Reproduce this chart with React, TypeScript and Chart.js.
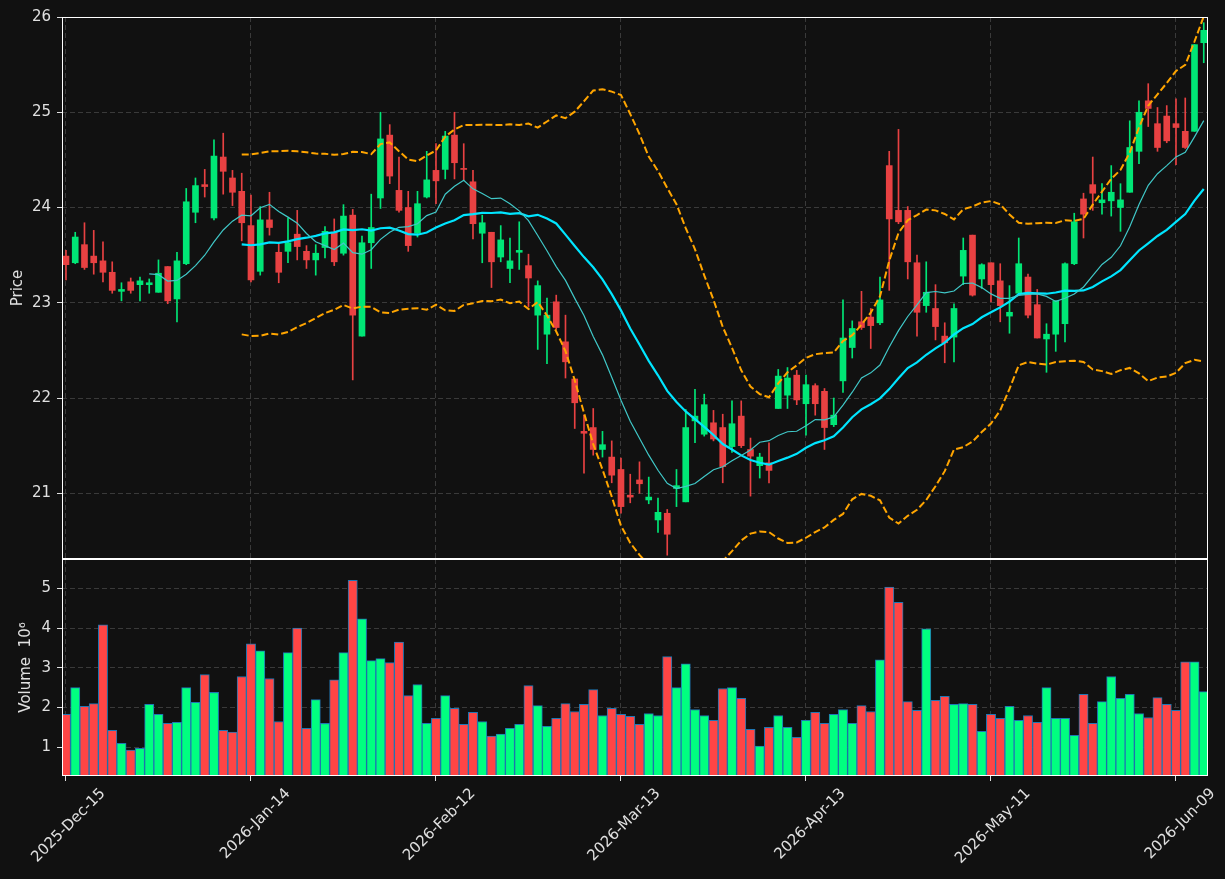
import React, { useEffect, useRef } from 'react';
import { Chart, registerables } from 'chart.js';
Chart.register(...registerables);

// ---- data ----
const OPEN = [
  23.49, 23.42, 23.61, 23.49, 23.44, 23.32, 23.12, 23.22, 23.19, 23.19,
  23.11, 23.38, 23.04, 23.41, 23.95, 24.24, 23.89, 24.53, 24.31, 24.17,
  23.81, 23.33, 23.87, 23.53, 23.54, 23.72, 23.54, 23.45, 23.58, 23.74,
  23.52, 23.92, 22.65, 23.63, 24.10, 24.76, 24.18, 24.00, 23.73, 24.11,
  24.39, 24.40, 24.76, 24.41, 24.27, 23.73, 23.74, 23.48, 23.36, 23.53,
  23.39, 22.87, 22.67, 23.01, 22.59, 22.20, 21.65, 21.69, 21.46, 21.38,
  21.25, 20.98, 21.14, 20.93, 20.72, 20.79, 21.05, 20.91, 21.76, 21.62,
  21.74, 21.69, 21.49, 21.81, 21.46, 21.29, 21.32, 21.89, 22.03, 22.24,
  21.94, 22.13, 22.07, 21.72, 22.18, 22.53, 22.80, 22.85, 22.79, 24.44,
  23.97, 23.97, 23.42, 22.97, 22.94, 22.65, 22.64, 23.28, 23.71, 23.25,
  23.42, 23.23, 22.86, 23.10, 23.27, 22.98, 22.62, 22.67, 22.78, 23.41,
  24.09, 24.24, 24.05, 24.07, 24.00, 24.16, 24.59, 25.12, 24.88, 24.96,
  24.88, 24.80, 24.80, 25.73,
];
const HIGH = [
  23.55, 23.74, 23.84, 23.76, 23.64, 23.43, 23.21, 23.26, 23.27, 23.25,
  23.45, 23.38, 23.53, 24.20, 24.31, 24.40, 24.71, 24.78, 24.39, 24.36,
  24.13, 24.01, 24.16, 23.63, 23.89, 23.97, 23.60, 23.61, 23.80, 23.88,
  24.03, 23.98, 23.70, 24.14, 25.00, 24.87, 24.53, 24.17, 24.17, 24.59,
  24.67, 24.80, 25.00, 24.67, 24.39, 23.92, 23.74, 23.81, 23.68, 23.85,
  23.51, 23.23, 23.05, 23.08, 22.87, 22.20, 21.82, 21.89, 21.65, 21.55,
  21.37, 21.20, 21.33, 21.17, 20.95, 20.83, 21.25, 21.88, 22.09, 22.04,
  21.87, 21.83, 21.97, 21.97, 21.58, 21.42, 21.53, 22.30, 22.32, 22.29,
  22.24, 22.15, 22.10, 22.00, 23.03, 22.81, 23.12, 22.94, 23.27, 24.59,
  24.82, 24.01, 23.50, 23.43, 23.19, 22.79, 22.99, 23.68, 23.71, 23.41,
  23.42, 23.41, 23.18, 23.68, 23.30, 23.14, 22.78, 23.02, 23.42, 23.94,
  24.15, 24.53, 24.25, 24.44, 24.25, 24.91, 25.12, 25.30, 25.05, 25.07,
  25.14, 25.15, 25.71, 25.94,
];
const LOW = [
  23.24, 23.41, 23.35, 23.30, 23.22, 23.10, 23.02, 23.10, 23.02, 23.10,
  23.11, 22.99, 22.80, 23.40, 23.84, 24.11, 23.87, 24.14, 24.02, 23.65,
  23.22, 23.29, 23.71, 23.21, 23.42, 23.45, 23.36, 23.29, 23.47, 23.39,
  23.50, 22.19, 22.65, 23.36, 23.99, 24.25, 23.95, 23.54, 23.69, 24.10,
  24.04, 24.30, 24.30, 24.29, 23.67, 23.42, 23.16, 23.43, 23.21, 23.35,
  22.96, 22.51, 22.36, 22.72, 22.21, 21.68, 21.21, 21.40, 21.38, 21.11,
  20.79, 20.90, 21.00, 20.89, 20.59, 20.35, 20.86, 20.91, 21.53, 21.60,
  21.55, 21.11, 21.43, 21.48, 20.97, 21.16, 21.11, 21.89, 21.89, 21.93,
  21.61, 21.82, 21.46, 21.70, 22.06, 22.42, 22.72, 22.52, 22.77, 23.13,
  23.83, 23.25, 22.65, 22.90, 22.61, 22.37, 22.38, 23.19, 23.07, 23.15,
  23.01, 22.80, 22.68, 23.10, 22.84, 22.63, 22.27, 22.49, 22.59, 23.40,
  23.68, 23.97, 23.93, 23.91, 23.75, 24.16, 24.46, 24.85, 24.59, 24.68,
  24.45, 24.62, 24.80, 25.52,
];
const CLOSE = [
  23.40, 23.69, 23.37, 23.42, 23.32, 23.13, 23.14, 23.13, 23.23, 23.21,
  23.31, 23.02, 23.44, 24.06, 24.23, 24.22, 24.54, 24.38, 24.16, 23.84,
  23.24, 23.87, 23.79, 23.32, 23.63, 23.59, 23.45, 23.52, 23.75, 23.43,
  23.91, 22.87, 23.63, 23.79, 24.72, 24.33, 23.97, 23.60, 24.04, 24.29,
  24.28, 24.75, 24.47, 24.40, 23.83, 23.84, 23.43, 23.66, 23.44, 23.55,
  23.26, 23.18, 22.87, 22.74, 22.38, 21.95, 21.63, 21.46, 21.51, 21.19,
  20.86, 20.96, 21.10, 20.96, 20.80, 20.57, 21.08, 21.69, 21.81, 21.93,
  21.57, 21.28, 21.73, 21.50, 21.39, 21.38, 21.24, 22.23, 22.21, 21.98,
  22.14, 21.94, 21.69, 21.82, 22.63, 22.73, 22.74, 22.76, 23.03, 23.88,
  23.85, 23.43, 22.90, 23.11, 22.75, 22.58, 22.94, 23.55, 23.08, 23.40,
  23.19, 22.97, 22.90, 23.41, 22.87, 22.63, 22.67, 23.02, 23.41, 23.85,
  23.93, 24.15, 24.08, 24.16, 24.08, 24.63, 25.00, 25.04, 24.63, 24.70,
  24.84, 24.63, 25.71, 25.86,
];
// volume in units of 10^6
const VOLUME = [
  1.83, 2.50, 2.03, 2.10, 4.08, 1.43, 1.10, 0.93, 0.975, 2.08,
  1.83, 1.60, 1.63, 2.50, 2.13, 2.83, 2.38, 1.43, 1.38, 2.78,
  3.60, 3.43, 2.73, 1.65, 3.38, 4.00, 1.48, 2.20, 1.60, 2.70,
  3.38, 5.20, 4.23, 3.18, 3.23, 3.13, 3.65, 2.30, 2.58, 1.60,
  1.73, 2.30, 1.98, 1.58, 1.88, 1.65, 1.28, 1.33, 1.48, 1.58,
  2.55, 2.05, 1.53, 1.73, 2.10, 1.90, 2.08, 2.45, 1.80, 1.98,
  1.83, 1.78, 1.58, 1.85, 1.80, 3.28, 2.50, 3.10, 1.95, 1.80,
  1.68, 2.48, 2.50, 2.23, 1.45, 1.03, 1.50, 1.80, 1.50, 1.25,
  1.68, 1.88, 1.60, 1.83, 1.95, 1.60, 2.05, 1.90, 3.20, 5.03,
  4.65, 2.15, 1.93, 3.98, 2.18, 2.28, 2.08, 2.10, 2.08, 1.40,
  1.83, 1.73, 2.03, 1.68, 1.80, 1.63, 2.50, 1.73, 1.73, 1.30,
  2.33, 1.60, 2.15, 2.78, 2.23, 2.33, 1.85, 1.75, 2.25, 2.08,
  1.93, 3.15, 3.15, 2.40,
];
const TICK_INDEX = [0, 20, 40, 60, 80, 100, 120];
const TICK_LABELS = ['2025-Dec-15', '2026-Jan-14', '2026-Feb-12', '2026-Mar-13', '2026-Apr-13', '2026-May-11', '2026-Jun-09'];
const PRICE_TICKS = [21, 22, 23, 24, 25, 26];
const VOLUME_TICKS = [1, 2, 3, 4, 5];

const X_MIN = -0.43;
const X_MAX = 123.46;
const PRICE_MIN = 20.31;
const PRICE_MAX = 26.0;
const VOL_MIN = 0.278;
const VOL_MAX = 5.737;

// ---- indicators derived from closes ----
function sma(arr: number[], n: number): (number | null)[] {
  return arr.map((_, i) => {
    if (i < n - 1) return null;
    let s = 0;
    for (let k = i - n + 1; k <= i; k++) s += arr[k];
    return s / n;
  });
}
function bollinger(arr: number[], n: number, k: number) {
  const mid = sma(arr, n);
  const upper: (number | null)[] = [];
  const lower: (number | null)[] = [];
  arr.forEach((_, i) => {
    const m = mid[i];
    if (m === null) { upper.push(null); lower.push(null); return; }
    let v = 0;
    for (let j = i - n + 1; j <= i; j++) v += (arr[j] - m) * (arr[j] - m);
    const sd = Math.sqrt(v / n);
    upper.push(m + k * sd);
    lower.push(m - k * sd);
  });
  return { upper, lower };
}

const UP = '#00e676';
const DOWN = '#e84142';
const VOL_UP = '#00ff80';
const VOL_DOWN = '#ff4545';
const TEXT = '#e0e0e0';
const GRID = '#3a3a3a';
const FONT = { family: 'DejaVu Sans', size: 15 };

const framePlugin = {
  id: 'frame',
  afterDraw(chart: any) {
    const { ctx, chartArea } = chart;
    const l = Math.round(chartArea.left), t = Math.round(chartArea.top);
    const r = Math.round(chartArea.right), b = Math.round(chartArea.bottom);
    ctx.save();
    ctx.strokeStyle = '#ffffff';
    ctx.lineWidth = 1;
    ctx.strokeRect(l + 0.5, t + 0.5, r - l - 1, b - t - 1);
    ctx.restore();
  },
};

const gridCommon = {
  color: GRID,
  lineWidth: 1,
  tickColor: TEXT,
  tickLength: 5,
  tickWidth: 1,
  tickBorderDash: [],
  offset: false,
};

export default function App() {
  const priceRef = useRef<HTMLCanvasElement>(null);
  const volRef = useRef<HTMLCanvasElement>(null);

  useEffect(() => {
    document.body.style.margin = '0';
    document.body.style.background = '#111111';

    const idx = CLOSE.map((_, i) => i);
    const isUp = idx.map((i) => CLOSE[i] >= OPEN[i]);
    const ma10 = sma(CLOSE, 10);
    const ma20 = sma(CLOSE, 20);
    const bb = bollinger(CLOSE, 20, 2);

    const xScaleBase = {
      type: 'linear' as const,
      min: X_MIN,
      max: X_MAX,
      offset: false,
      border: { display: false, dash: [5, 3] },
      afterBuildTicks: (s: any) => { s.ticks = TICK_INDEX.map((v) => ({ value: v })); },
    };

    const price = new Chart(priceRef.current as HTMLCanvasElement, {
      type: 'bar',
      data: {
        datasets: [
          {
            type: 'line', label: 'BB upper', data: idx.map((i) => ({ x: i, y: bb.upper[i] })),
            borderColor: '#ffa500', borderWidth: 2, borderDash: [7, 3], pointRadius: 0, tension: 0, order: 0,
          } as any,
          {
            type: 'line', label: 'BB lower', data: idx.map((i) => ({ x: i, y: bb.lower[i] })),
            borderColor: '#ffa500', borderWidth: 2, borderDash: [7, 3], pointRadius: 0, tension: 0, order: 0,
          } as any,
          {
            type: 'line', label: 'MA10', data: idx.map((i) => ({ x: i, y: ma10[i] })),
            borderColor: '#40c8c8', borderWidth: 1.2, pointRadius: 0, tension: 0, order: 0,
          } as any,
          {
            type: 'line', label: 'MA20', data: idx.map((i) => ({ x: i, y: ma20[i] })),
            borderColor: '#00e5ff', borderWidth: 2.2, pointRadius: 0, tension: 0, order: 0,
          } as any,
          {
            type: 'bar', label: 'wick', data: idx.map((i) => ({ x: i, y: [LOW[i], HIGH[i]] })),
            backgroundColor: idx.map((i) => (isUp[i] ? UP : DOWN)),
            barThickness: 1, grouped: false, order: 2,
          } as any,
          {
            type: 'bar', label: 'body', data: idx.map((i) => ({ x: i, y: [OPEN[i], CLOSE[i]] })),
            backgroundColor: idx.map((i) => (isUp[i] ? UP : DOWN)),
            barThickness: 6, minBarLength: 1, grouped: false, order: 1,
          } as any,
        ],
      },
      options: {
        animation: false,
        responsive: false,
        devicePixelRatio: 1,
        layout: { padding: { left: 0, right: 17, top: 17, bottom: 0 } },
        plugins: { legend: { display: false }, tooltip: { enabled: false } },
        scales: {
          x: {
            ...xScaleBase,
            grid: { ...gridCommon, drawTicks: false },
            ticks: { display: false },
            afterFit: (s: any) => { s.height = 1; s.paddingLeft = 0; s.paddingRight = 0; },
          },
          y: {
            type: 'linear',
            position: 'left',
            min: PRICE_MIN,
            max: PRICE_MAX,
            grid: { ...gridCommon },
            border: { display: false, dash: [5, 3] },
            ticks: { color: TEXT, font: FONT, padding: 6 },
            afterBuildTicks: (s: any) => { s.ticks = PRICE_TICKS.map((v) => ({ value: v })); },
            afterFit: (s: any) => { s.width = 62; s.paddingTop = 0; s.paddingBottom = 0; },
            title: { display: true, text: 'Price', color: TEXT, font: FONT, padding: { top: 9, bottom: 0 } },
          },
        },
      } as any,
      plugins: [framePlugin],
    });

    const volume = new Chart(volRef.current as HTMLCanvasElement, {
      type: 'bar',
      data: {
        datasets: [
          {
            label: 'Volume', data: idx.map((i) => ({ x: i, y: VOLUME[i] })),
            backgroundColor: idx.map((i) => (isUp[i] ? VOL_UP : VOL_DOWN)),
            borderColor: '#1f77b4', borderWidth: 1, borderSkipped: 'bottom',
            barThickness: 9.25, grouped: false,
          } as any,
        ],
      },
      options: {
        animation: false,
        responsive: false,
        devicePixelRatio: 1,
        layout: { padding: { left: 0, right: 17, top: 0, bottom: 0 } },
        plugins: { legend: { display: false }, tooltip: { enabled: false } },
        scales: {
          x: {
            ...xScaleBase,
            grid: { ...gridCommon, drawTicks: true },
            ticks: {
              color: TEXT, font: FONT, autoSkip: false, maxRotation: 45, minRotation: 45,
              labelOffset: 37, padding: 4,
              callback: (v: any) => {
                const k = TICK_INDEX.indexOf(Number(v));
                return k >= 0 ? TICK_LABELS[k] : '';
              },
            },
            afterFit: (s: any) => { s.height = 103; s.paddingLeft = 0; s.paddingRight = 0; },
          },
          y: {
            type: 'linear',
            position: 'left',
            min: VOL_MIN,
            max: VOL_MAX,
            grid: { ...gridCommon },
            border: { display: false, dash: [5, 3] },
            ticks: { color: TEXT, font: FONT, padding: 6 },
            afterBuildTicks: (s: any) => { s.ticks = VOLUME_TICKS.map((v) => ({ value: v })); },
            afterFit: (s: any) => { s.width = 62; s.paddingTop = 0; s.paddingBottom = 0; },
            title: { display: true, text: 'Volume  10\u2076', color: TEXT, font: FONT, padding: { top: 17, bottom: 0 } },
          },
        },
      } as any,
      plugins: [framePlugin],
    });

    return () => { price.destroy(); volume.destroy(); };
  }, []);

  return (
    <div style={{ position: 'relative', width: 1225, height: 879, background: '#111111', overflow: 'hidden' }}>
      <canvas ref={priceRef} width={1225} height={560} style={{ position: 'absolute', left: 0, top: 0, display: 'block' }} />
      <canvas ref={volRef} width={1225} height={320} style={{ position: 'absolute', left: 0, top: 559, display: 'block' }} />
    </div>
  );
}
